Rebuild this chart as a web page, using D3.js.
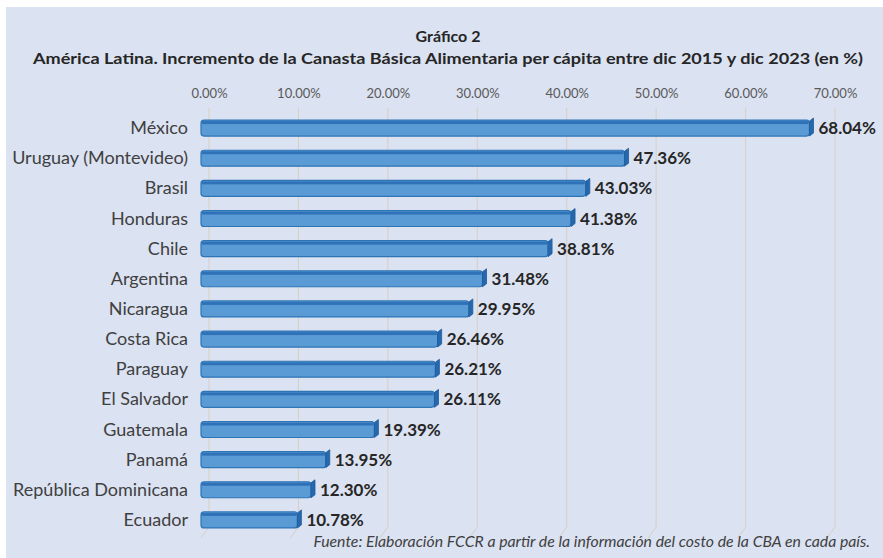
<!DOCTYPE html>
<html>
<head>
<meta charset="utf-8">
<script src="https://cdn.jsdelivr.net/npm/d3@7"></script>
<style>
  body { margin: 0; background: #fff; }
  svg text { font-family: Lato, "Open Sans", sans-serif; }
</style>
</head>
<body>
<div id="chart"></div>
<script>
const countries = ["México", "Uruguay (Montevideo)", "Brasil", "Honduras", "Chile", "Argentina",
  "Nicaragua", "Costa Rica", "Paraguay", "El Salvador", "Guatemala", "Panamá",
  "República Dominicana", "Ecuador"]
const increase = [68.04, 47.36, 43.03, 41.38, 38.81, 31.48, 29.95, 26.46, 26.21, 26.11, 19.39, 13.95, 12.30, 10.78]
const ticks = [0, 10, 20, 30, 40, 50, 60, 70]

const data = countries.map((c, i) => ({ country: c, value: increase[i] }))

const w = 883
const h = 558
const depth = 8   // 3d offset between back wall and bar front

const svg = d3.select("#chart").append("svg")
    .attr("width", w)
    .attr("height", h)

svg.append("rect")
    .attr("x", 6).attr("y", 7)
    .attr("width", w - 6).attr("height", h - 7)
    .attr("fill", "#dbe2f2")

// back wall scale (gridlines + axis) and front scale (bars)
const xBack = d3.scaleLinear().domain([0, 70]).range([209, 835])
const xFront = d3.scaleLinear().domain([0, 70]).range([209 - depth, 835 - depth])

const y = d3.scaleBand()
    .domain(countries)
    .range([113, 535])
    .paddingInner(0.47)
    .paddingOuter(0.235)

// titles
svg.append("text")
    .attr("x", 448).attr("y", 42)
    .attr("text-anchor", "middle")
    .attr("font-size", 16).attr("font-weight", "bold")
    .attr("fill", "#262626")
    .text("Gráfico 2")

svg.append("text")
    .attr("x", 448).attr("y", 64)
    .attr("text-anchor", "middle")
    .attr("font-size", 16).attr("font-weight", "bold")
    .attr("fill", "#262626")
    .attr("textLength", 830)
    .attr("lengthAdjust", "spacingAndGlyphs")
    .text("América Latina. Incremento de la Canasta Básica Alimentaria per cápita entre dic 2015 y dic 2023 (en %)")

// gridlines with the 3d floor kink
const gridTop = 108
const gridBottom = 527
svg.append("g")
    .selectAll("path")
    .data(ticks)
    .join("path")
    .attr("d", d => `M${xBack(d)},${gridTop}V${gridBottom}L${xFront(d)},${gridBottom + 11}`)
    .attr("fill", "none")
    .attr("stroke", "#d8cfc2")
    .attr("stroke-width", 1)

// top axis
const xAxis = d3.axisTop(xBack)
    .tickValues(ticks)
    .tickSize(0)
    .tickPadding(0)
    .tickFormat(d => d3.format(".2f")(d) + "%")

const axisG = svg.append("g")
    .attr("transform", "translate(0,98)")
    .call(xAxis)
axisG.select(".domain").remove()
axisG.selectAll("text")
    .attr("font-size", 13)
    .attr("fill", "#595959")
    .style("font-family", "Lato, sans-serif")

// bars
const bars = svg.append("g")
    .selectAll("g")
    .data(data)
    .join("g")

const bh = y.bandwidth()

bars.append("rect")
    .attr("x", xFront(0))
    .attr("y", d => y(d.country))
    .attr("width", d => xFront(d.value) - xFront(0))
    .attr("height", bh)
    .attr("rx", 3)
    .attr("fill", "#5b9bd5")
    .attr("stroke", "#2e75b6")
    .attr("stroke-width", 1.2)

bars.append("rect")
    .attr("x", xFront(0) + 1)
    .attr("y", d => y(d.country) + 1)
    .attr("width", d => xFront(d.value) - xFront(0) - 2)
    .attr("height", 3)
    .attr("fill", "#2f72b8")

// right side cap of the 3d bar
bars.append("path")
    .attr("d", d => {
        const x1 = xFront(d.value)
        const y0 = y(d.country)
        return `M${x1},${y0 + 1}L${x1 + 4},${y0 - 2}L${x1 + 4},${y0 + bh - 3}L${x1},${y0 + bh}Z`
    })
    .attr("fill", "#2568ad")
    .attr("stroke", "#1f5c9c")
    .attr("stroke-width", 0.8)

// value labels
bars.append("text")
    .attr("x", d => xFront(d.value) + 9)
    .attr("y", d => y(d.country) + bh / 2 + 6)
    .attr("font-size", 17)
    .attr("font-weight", "bold")
    .attr("fill", "#262626")
    .text(d => d3.format(".2f")(d.value) + "%")

// category labels
svg.append("g")
    .selectAll("text")
    .data(countries)
    .join("text")
    .attr("x", 188)
    .attr("y", d => y(d) + bh / 2 + 6)
    .attr("text-anchor", "end")
    .attr("font-size", 18)
    .attr("fill", "#404040")
    .text(d => d)

// source note
svg.append("text")
    .attr("x", 870).attr("y", 547)
    .attr("text-anchor", "end")
    .attr("font-size", 15.8)
    .attr("font-style", "italic")
    .attr("fill", "#404040")
    .text("Fuente: Elaboración FCCR a partir de la información del costo de la CBA en cada país.")
</script>
</body>
</html>
